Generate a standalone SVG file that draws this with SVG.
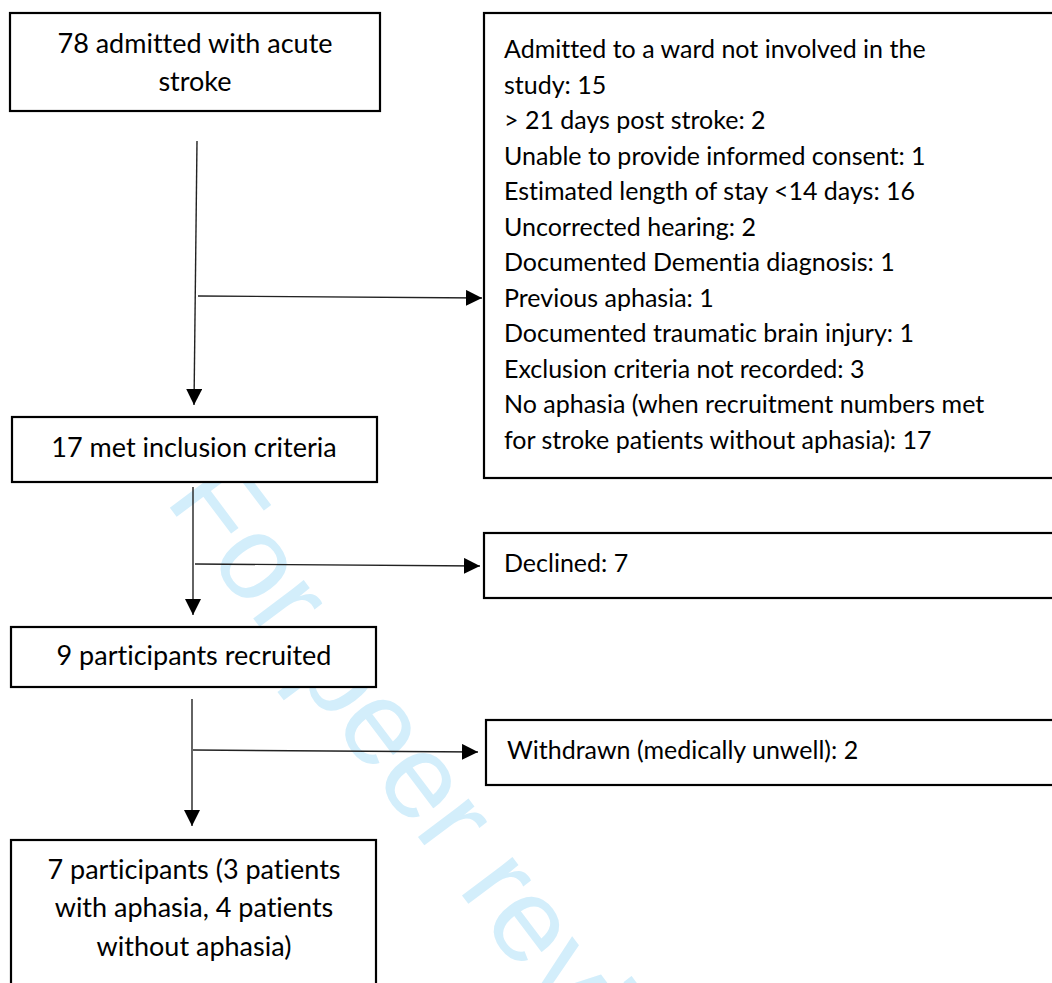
<svg xmlns="http://www.w3.org/2000/svg" width="1052" height="983" viewBox="0 0 1052 983">
  <defs>
    <marker id="arrow" viewBox="0 0 16 16" refX="16" refY="8" markerWidth="16" markerHeight="16" markerUnits="userSpaceOnUse" orient="auto">
      <path d="M0,0 L16,8 L0,16 Z" fill="#000"/>
    </marker>
    <style>
      .box { fill: #fff; stroke: #000; stroke-width: 2.2; }
      .lbl { font-family: "Lato", "Liberation Sans", sans-serif; font-size: 25px; fill: #000; font-variant-ligatures: none; }
      .big { font-size: 27px; }
      .mid { text-anchor: middle; }
      .conn { fill: none; stroke: #222; stroke-width: 1.4; }
      .wm { font-family: "Liberation Sans", "DejaVu Sans", sans-serif; font-size: 120px; fill: #d3eefb; }
    </style>
  </defs>
  <rect width="1052" height="983" fill="#fff"/>

  <!-- diagonal watermark, painted under the boxes -->
  <text class="wm" transform="translate(164,500) rotate(53)">For peer review</text>

  <g id="connectors">
    <path class="conn" d="M197,141 L194,405" marker-end="url(#arrow)"/>
    <path class="conn" d="M198,296 L482,298" marker-end="url(#arrow)"/>
    <path class="conn" d="M193,487 L193,615" marker-end="url(#arrow)"/>
    <path class="conn" d="M195,564 L480,566" marker-end="url(#arrow)"/>
    <path class="conn" d="M192,699 L192,826" marker-end="url(#arrow)"/>
    <path class="conn" d="M193,750 L478,752" marker-end="url(#arrow)"/>
  </g>

  <g id="admitted">
    <rect class="box" x="10" y="13" width="370" height="98"/>
    <text class="lbl big mid" x="195" y="53">78 admitted with acute</text>
    <text class="lbl big mid" x="195" y="91">stroke</text>
  </g>

  <g id="excluded">
    <rect class="box" x="484" y="13" width="580" height="465"/>
    <text class="lbl" x="504" y="58">Admitted to a ward not involved in the</text>
    <text class="lbl" x="504" y="94">study: 15</text>
    <text class="lbl" x="504" y="129">&gt; 21 days post stroke: 2</text>
    <text class="lbl" x="504" y="165">Unable to provide informed consent: 1</text>
    <text class="lbl" x="504" y="200">Estimated length of stay &lt;14 days: 16</text>
    <text class="lbl" x="504" y="236">Uncorrected hearing: 2</text>
    <text class="lbl" x="504" y="271">Documented Dementia diagnosis: 1</text>
    <text class="lbl" x="504" y="307">Previous aphasia: 1</text>
    <text class="lbl" x="504" y="342">Documented traumatic brain injury: 1</text>
    <text class="lbl" x="504" y="378">Exclusion criteria not recorded: 3</text>
    <text class="lbl" x="504" y="413">No aphasia (when recruitment numbers met</text>
    <text class="lbl" x="504" y="449">for stroke patients without aphasia): 17</text>
  </g>

  <g id="inclusion">
    <rect class="box" x="12" y="417" width="365" height="65"/>
    <text class="lbl big mid" x="194" y="457">17 met inclusion criteria</text>
  </g>

  <g id="declined">
    <rect class="box" x="484" y="533" width="580" height="65"/>
    <text class="lbl" x="504" y="572">Declined: 7</text>
  </g>

  <g id="recruited">
    <rect class="box" x="11" y="627" width="365" height="60"/>
    <text class="lbl big mid" x="194" y="665">9 participants recruited</text>
  </g>

  <g id="withdrawn">
    <rect class="box" x="486" y="720" width="580" height="65"/>
    <text class="lbl" x="507" y="759">Withdrawn (medically unwell): 2</text>
  </g>

  <g id="participants">
    <rect class="box" x="11" y="840" width="365" height="160"/>
    <text class="lbl big mid" x="194" y="879">7 participants (3 patients</text>
    <text class="lbl big mid" x="194" y="917">with aphasia, 4 patients</text>
    <text class="lbl big mid" x="194" y="956">without aphasia)</text>
  </g>
</svg>
